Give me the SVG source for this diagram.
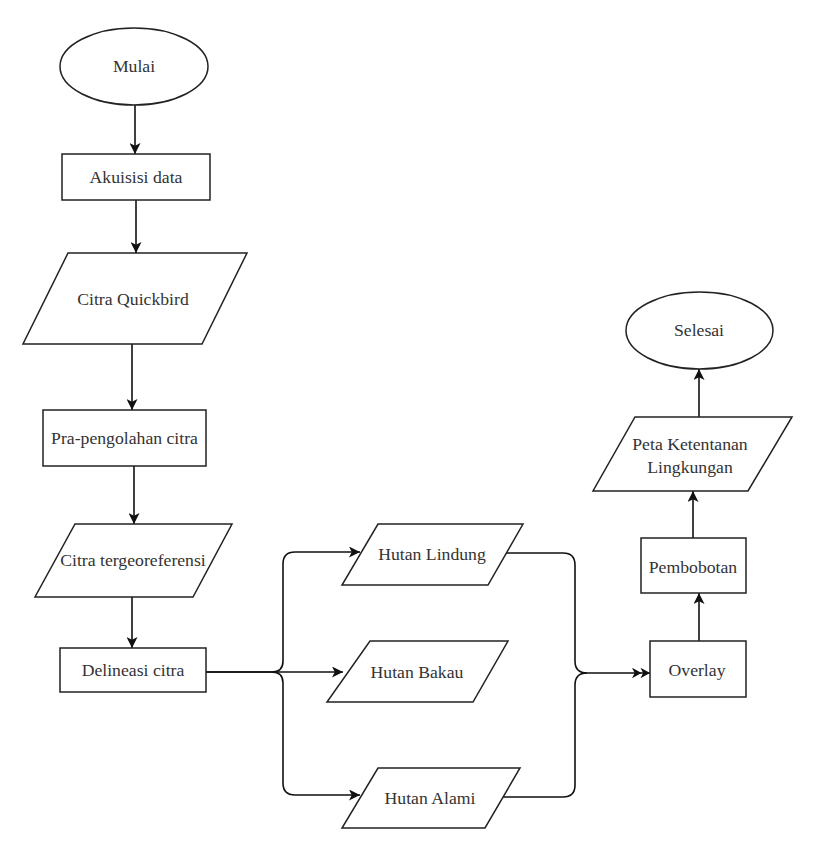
<svg xmlns="http://www.w3.org/2000/svg" width="819" height="853" viewBox="0 0 819 853">
<defs>
<style>
.shape{fill:#fff;stroke:#222;stroke-width:1.5}
.lbl{font-family:"Liberation Serif","Times New Roman",serif;font-size:17.7px;fill:#333;text-anchor:middle;dominant-baseline:central}
.edge{fill:none;stroke:#111;stroke-width:1.6}
</style>
<marker id="arr" viewBox="0 0 10 10" refX="10" refY="5" markerWidth="11" markerHeight="11" markerUnits="userSpaceOnUse" orient="auto">
<path d="M0,0 L10,5 L0,10 L2.5,5 z" fill="#111"/>
</marker>
<marker id="arr2" viewBox="0 0 17 10" refX="17" refY="5" markerWidth="18" markerHeight="11" markerUnits="userSpaceOnUse" orient="auto">
<path d="M0,0 L9,5 L0,10 L2.5,5 z M8,0 L17,5 L8,10 L10.5,5 z" fill="#111"/>
</marker>
</defs>
<rect width="819" height="853" fill="#fff"/>
<g id="connectors">
<path class="edge" d="M135,105 V154" marker-end="url(#arr)"/>
<path class="edge" d="M136,200 V253" marker-end="url(#arr)"/>
<path class="edge" d="M132,344 V410" marker-end="url(#arr)"/>
<path class="edge" d="M134,466 V524" marker-end="url(#arr)"/>
<path class="edge" d="M132,597 V648" marker-end="url(#arr)"/>
<path class="edge" d="M206,672 H272 Q283,672 283,661 V564 Q283,552 295,552 H360" marker-end="url(#arr)"/>
<path class="edge" d="M206,672 H343" marker-end="url(#arr)"/>
<path class="edge" d="M272,672 Q283,672 283,683 V783 Q283,795 295,795 H360" marker-end="url(#arr)"/>
<path class="edge" d="M506,553 H563 Q575,553 575,565 V661 Q575,673 587,673 H650" marker-end="url(#arr2)"/>
<path class="edge" d="M503,797 H563 Q575,797 575,785 V685 Q575,673 587,673"/>
<path class="edge" d="M699,641 V593" marker-end="url(#arr)"/>
<path class="edge" d="M693,538 V491" marker-end="url(#arr)"/>
<path class="edge" d="M699,417 V369" marker-end="url(#arr)"/>
</g>
<g id="mulai"><ellipse class="shape" cx="134" cy="66.5" rx="74" ry="38.5"/><text class="lbl" x="134" y="66">Mulai</text></g>
<g id="akuisisi"><rect class="shape" x="62" y="154" width="148" height="46"/><text class="lbl" x="136" y="177">Akuisisi data</text></g>
<g id="quickbird"><polygon class="shape" points="68,253 247,253 202,344 23,344"/><text class="lbl" x="133" y="299">Citra Quickbird</text></g>
<g id="prapengolahan"><rect class="shape" x="43" y="410" width="163" height="56"/><text class="lbl" x="124.5" y="438">Pra-pengolahan citra</text></g>
<g id="tergeoreferensi"><polygon class="shape" points="75,524 232,524 193,597 35,597"/><text class="lbl" x="133" y="560">Citra tergeoreferensi</text></g>
<g id="delineasi"><rect class="shape" x="60" y="648" width="146" height="44"/><text class="lbl" x="133" y="670">Delineasi citra</text></g>
<g id="hutanlindung"><polygon class="shape" points="378,524 523,524 488,585 342,585"/><text class="lbl" x="432" y="554">Hutan Lindung</text></g>
<g id="hutanbakau"><polygon class="shape" points="370,641 508,641 473,702 327,702"/><text class="lbl" x="417" y="672">Hutan Bakau</text></g>
<g id="hutanalami"><polygon class="shape" points="378,768 520,768 485,828 342,828"/><text class="lbl" x="430" y="798">Hutan Alami</text></g>
<g id="overlay"><rect class="shape" x="650" y="641" width="96" height="56"/><text class="lbl" x="697" y="670">Overlay</text></g>
<g id="pembobotan"><rect class="shape" x="641" y="538" width="105" height="55"/><text class="lbl" x="693" y="567">Pembobotan</text></g>
<g id="peta"><polygon class="shape" points="635,417 792,417 748,491 593,491"/><text class="lbl" x="690" y="444">Peta Ketentanan</text><text class="lbl" x="690" y="467">Lingkungan</text></g>
<g id="selesai"><ellipse class="shape" cx="699.5" cy="330.5" rx="73.5" ry="38.5"/><text class="lbl" x="699" y="330">Selesai</text></g>
</svg>
